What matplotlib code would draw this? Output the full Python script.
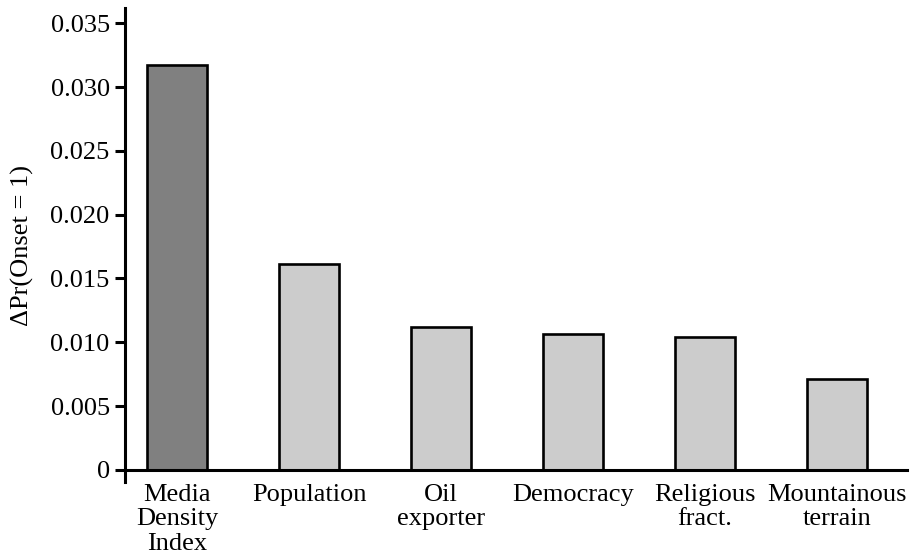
import matplotlib
matplotlib.use('Agg')
import matplotlib.pyplot as plt

# Datos del gráfico
categorias = ['Media\nDensity\nIndex', 'Population', 'Oil\nexporter',
              'Democracy', 'Religious\nfract.', 'Mountainous\nterrain']
valores = [0.03175, 0.0161, 0.0112, 0.01065, 0.01045, 0.00715]
colores = ['#808080', '#cccccc', '#cccccc', '#cccccc', '#cccccc', '#cccccc']
yticks = [0, 0.005, 0.010, 0.015, 0.020, 0.025, 0.030, 0.035]
ytick_labels = ['0', '0.005', '0.010', '0.015', '0.020', '0.025', '0.030', '0.035']

plt.rcParams['font.family'] = ['Liberation Serif', 'DejaVu Serif']

fig = plt.figure(figsize=(9.11, 5.57), dpi=100)
ax = fig.add_axes([125 / 911, 75 / 557, 782 / 911, 474 / 557])

x = list(range(len(categorias)))
ax.bar(x, valores, width=0.45, color=colores, edgecolor='black', linewidth=1.9, zorder=2)

ax.set_xlim(-0.394, 5.53)
ax.set_ylim(-0.00095, 0.0362)

ax.spines['top'].set_visible(False)
ax.spines['right'].set_visible(False)
ax.spines['bottom'].set_position(('data', 0))
ax.spines['left'].set_linewidth(2.2)
ax.spines['bottom'].set_linewidth(2.2)
ax.spines['bottom'].set_zorder(3)

ax.set_yticks(yticks)
ax.set_yticklabels(ytick_labels, fontsize=19)
ax.tick_params(axis='y', length=7, width=2.2, pad=4)

ax.set_xticks(x)
ax.set_xticklabels(categorias, fontsize=19, linespacing=1.15)
ax.tick_params(axis='x', length=0, pad=10)

ax.set_ylabel('ΔPr(Onset = 1)', fontsize=19, labelpad=12)

fig.savefig('out.png', dpi=100)
